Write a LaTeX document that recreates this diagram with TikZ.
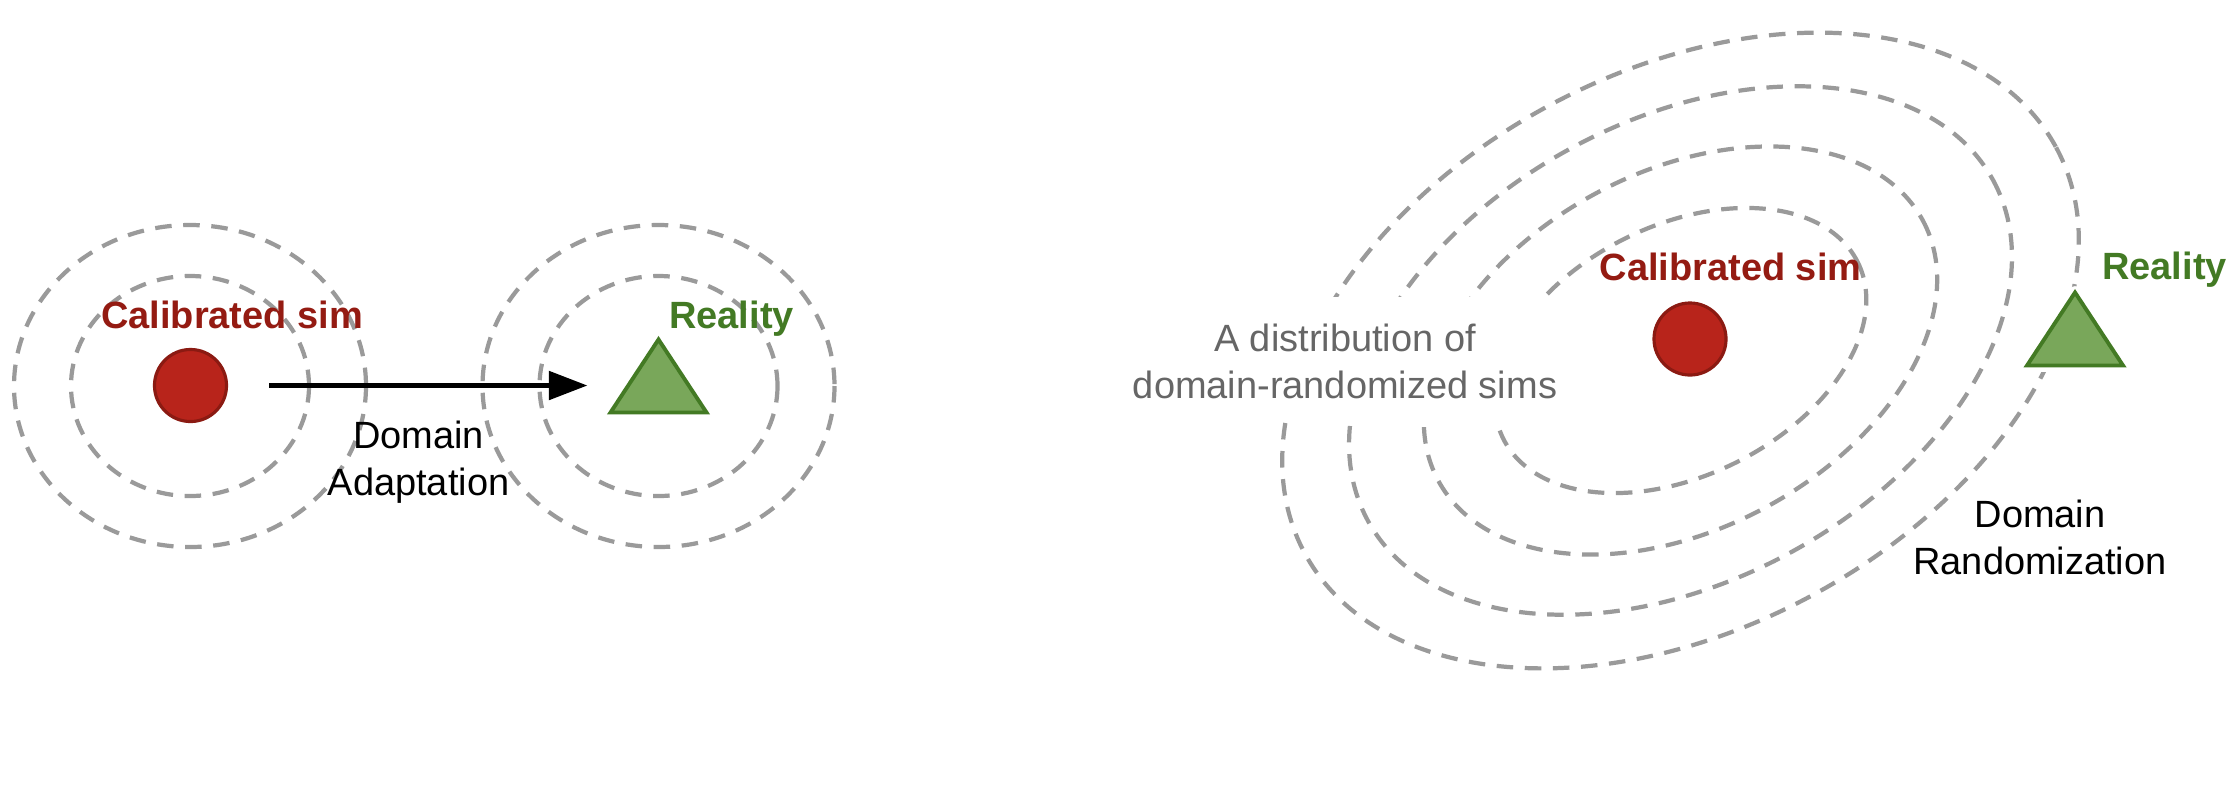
\documentclass[tikz,border=0pt]{standalone}
\usepackage{fontspec}
\setmainfont{Liberation Sans}
\usetikzlibrary{arrows.meta}
\newlength{\upx}\setlength{\upx}{0.28453pt}
\definecolor{dashgray}{HTML}{9A9A9A}
\definecolor{simfill}{HTML}{B8241B}
\definecolor{simdraw}{HTML}{8B1A12}
\definecolor{simtext}{HTML}{941B12}
\definecolor{realfill}{HTML}{79A75A}
\definecolor{realdraw}{HTML}{437A24}
\definecolor{realtext}{HTML}{437A24}
\definecolor{graytext}{HTML}{666666}
\begin{document}
\begin{tikzpicture}[x=0.01cm, y=-0.01cm,
  ring/.style={draw=dashgray, line width=1.2pt, dash pattern=on 4.7pt off 3.3pt},
  simdot/.style={circle, fill=simfill, draw=simdraw, line width=0.9pt, minimum size=72\upx, inner sep=0pt},
  realbox/.style={rectangle, minimum width=96\upx, minimum height=73\upx, inner sep=0pt, outer sep=0pt},
  realtri/.style={fill=realfill, draw=realdraw, line width=1.1pt, line join=miter},
  realmask/.style={draw=white, line width=3.6pt, line join=round},
  lbl/.style={anchor=base, inner sep=0pt, align=center, font=\fontsize{10.8pt}{13.1pt}\selectfont},
  simlabel/.style={lbl, text=simtext, font=\fontsize{10.8pt}{13.1pt}\selectfont\bfseries},
  reallabel/.style={lbl, text=realtext, font=\fontsize{10.8pt}{13.1pt}\selectfont\bfseries},
  blacklabel/.style={lbl, text=black},
  graylabel/.style={lbl, text=graytext},
  moveto/.style={draw=black, line width=1.45pt, -{Triangle[length=11pt, width=8pt]}}
]
\useasboundingbox (0,0) rectangle (2240,784);
\fill[white] (0,0) rectangle (2240,784);

% ---------- left: domain adaptation ----------
\draw[ring] (190,386) ellipse [x radius=176, y radius=161];
\draw[ring] (190,386) ellipse [x radius=119, y radius=110];
\draw[ring] (658.5,386) ellipse [x radius=176, y radius=161];
\draw[ring] (658.5,386) ellipse [x radius=119, y radius=110];

\node[simdot] (simA) at (190.5,385.5) {};
\node[realbox] (realA) at (658.5,376) {};
\draw[realtri] (realA.north) -- (realA.south west) -- (realA.south east) -- cycle;
\draw[moveto, shorten <=41\upx, shorten >=23\upx] (simA.east) -- (simA.east -| realA.west);

\node[simlabel] (simAlbl) at (232,328) {Calibrated sim};
\node[reallabel] (realAlbl) at (731.5,328) {Reality};
\node[blacklabel] (daLbl) at (418.5,495) {Domain\\Adaptation};

% ---------- right: domain randomization ----------
\foreach \ang/\ra/\rb in {28.4/427/278, 28.6/356/230, 28.2/275/178.5, 26.5/198/125}{
  \draw[ring, rotate around={\ang:(1680.5,350.5)}] (1680.5,350.5) ellipse [x radius=\ra, y radius=\rb];
}
\fill[white] (1200,297) rectangle (1585,421);

\node[realbox] (realB) at (2075,329) {};
\draw[realmask] (realB.north) -- (realB.south west) -- (realB.south east) -- cycle;
\draw[realtri] (realB.north) -- (realB.south west) -- (realB.south east) -- cycle;
\node[simdot] (simB) at (1690,339) {};

\node[simlabel] (simBlbl) at (1730.5,280) {Calibrated sim};
\node[reallabel] (realBlbl) at (2164.5,279) {Reality};
\node[graylabel] (distLbl) at (1345,398) {A distribution of\\domain-randomized sims};
\node[blacklabel] (drLbl) at (2040,574) {Domain\\Randomization};
\end{tikzpicture}
\end{document}
